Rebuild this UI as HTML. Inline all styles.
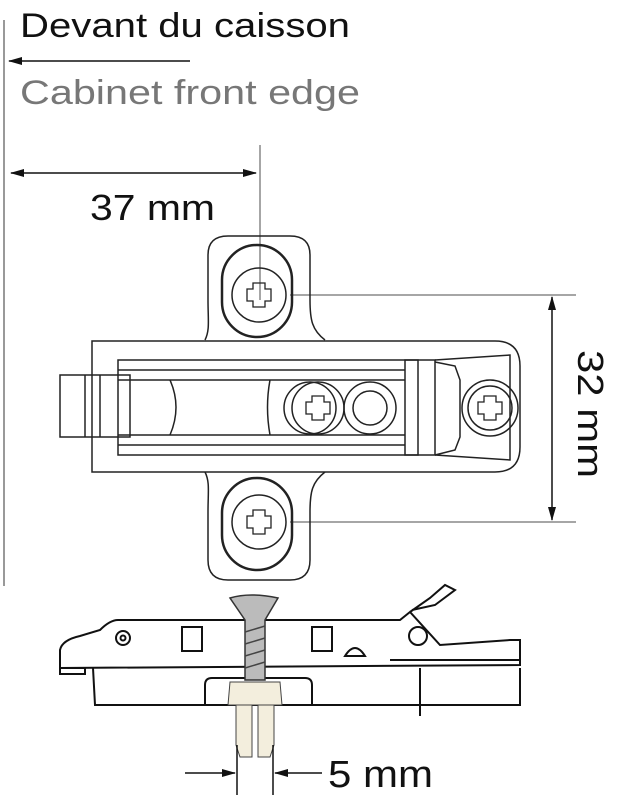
<!DOCTYPE html>
<html><head><meta charset="utf-8"><style>
html,body{margin:0;padding:0;background:#fff;}
svg{display:block;}
text{font-family:"Liberation Sans",sans-serif;}
</style></head><body>
<svg width="619" height="800" viewBox="0 0 619 800" xmlns="http://www.w3.org/2000/svg">
<defs>
<marker id="ah" markerWidth="14" markerHeight="8" refX="13" refY="4" orient="auto" markerUnits="userSpaceOnUse"><path d="M0,0 L14,4 L0,8 Z" fill="#111"/></marker>
</defs>
<!-- texts -->
<text x="20" y="37" font-size="34" fill="#111" textLength="330" lengthAdjust="spacingAndGlyphs">Devant du caisson</text>
<text x="20" y="104" font-size="34" fill="#777" textLength="340" lengthAdjust="spacingAndGlyphs">Cabinet front edge</text>
<line x1="190" y1="61" x2="9" y2="61" stroke="#111" stroke-width="1.5" marker-end="url(#ah)"/>
<line x1="4" y1="20" x2="4" y2="586" stroke="#999" stroke-width="2"/>
<!-- 37 mm -->
<line x1="130" y1="173" x2="11" y2="173" stroke="#111" stroke-width="1.5" marker-end="url(#ah)"/>
<line x1="130" y1="173" x2="256" y2="173" stroke="#111" stroke-width="1.5" marker-end="url(#ah)"/>
<text x="90" y="220" font-size="36" fill="#111" textLength="125" lengthAdjust="spacingAndGlyphs">37 mm</text>
<line x1="260" y1="145" x2="260" y2="300" stroke="#888" stroke-width="1.5"/>
<!-- 32 mm -->
<line x1="290" y1="295" x2="576" y2="295" stroke="#888" stroke-width="1.5"/>
<line x1="290" y1="522" x2="576" y2="522" stroke="#888" stroke-width="1.5"/>
<line x1="552" y1="408" x2="552" y2="297" stroke="#111" stroke-width="1.5" marker-end="url(#ah)"/>
<line x1="552" y1="408" x2="552" y2="520" stroke="#111" stroke-width="1.5" marker-end="url(#ah)"/>
<text transform="translate(578,350) rotate(90)" font-size="36" fill="#111" textLength="128" lengthAdjust="spacingAndGlyphs">32 mm</text>

<g fill="none" stroke="#222" stroke-width="1.5">
<!-- ears -->
<path d="M205,340 C210,330 208,320 208,300 L208,255 Q208,236 228,236 L290,236 Q310,236 310,255 L310,300 C310,320 312,330 325,340"/>
<path d="M205,472 C210,482 208,492 208,512 L208,560 Q208,580 228,580 L290,580 Q310,580 310,560 L310,512 C310,492 312,482 325,472"/>
<rect x="222" y="245" width="70" height="92" rx="35" stroke-width="2.5"/>
<rect x="222" y="478" width="70" height="92" rx="35" stroke-width="2.5"/>
<circle cx="259" cy="295" r="27"/>
<circle cx="259" cy="522" r="27"/>
<!-- main body -->
<path d="M92,341 L495,341 Q520,341 520,366 L520,447 Q520,472 495,472 L92,472 Z"/>
<rect x="60" y="375" width="70" height="62"/>
<line x1="85" y1="375" x2="85" y2="437"/><line x1="100" y1="375" x2="100" y2="437"/>
<rect x="118" y="360" width="300" height="95"/>
<line x1="118" y1="380" x2="405" y2="380"/><line x1="118" y1="435" x2="405" y2="435"/>
<line x1="118" y1="370" x2="405" y2="370"/><line x1="118" y1="445" x2="405" y2="445"/>
<path d="M170,380 Q182,407 170,435"/>
<path d="M270,380 Q265,407 270,435"/>
<circle cx="310" cy="408" r="26"/><circle cx="318" cy="408" r="26"/>
<circle cx="370" cy="408" r="26"/><circle cx="370" cy="408" r="17"/>
<rect x="405" y="360" width="30" height="95"/>
<path d="M435,362 L455,366 L460,380 L460,437 L455,450 L435,455"/>
<path d="M435,360 L510,355 L510,460 L435,455"/>
<circle cx="490" cy="408" r="28"/><circle cx="490" cy="408" r="22"/>
</g>
<!-- screw crosses -->
<g fill="none" stroke="#222" stroke-width="1.3">
<path d="M253,283 h12 v6 h6 v12 h-6 v6 h-12 v-6 h-6 v-12 h6 z"/>
<path d="M253,510 h12 v6 h6 v12 h-6 v6 h-12 v-6 h-6 v-12 h6 z"/>
<path d="M312,396 h12 v6 h6 v12 h-6 v6 h-12 v-6 h-6 v-12 h6 z"/>
<path d="M484,396 h12 v6 h6 v12 h-6 v6 h-12 v-6 h-6 v-12 h6 z"/>
</g>
<!-- side view -->
<g fill="none" stroke="#111" stroke-width="2">
<path d="M60,668 L60,650 Q62,640 80,636 L100,630 Q110,620 118,620 L400,620 L410,612 L440,645 L510,640 L520,640 L520,665 L60,668"/>
<rect x="60" y="668" width="25" height="6"/>
<path d="M93,668 L95,705 L520,705 L520,668"/>
<path d="M205,705 L205,685 Q205,678 212,678 L305,678 Q312,678 312,685 L312,705"/>
<path d="M410,612 L430,598 L445,585 L455,590 L435,605 L412,610"/>
<rect x="182" y="627" width="20" height="24"/><rect x="312" y="627" width="20" height="24"/>
<path d="M345,656 Q355,640 365,656 Z"/>
<circle cx="123" cy="638" r="7"/><circle cx="123" cy="638" r="2.5"/>
<circle cx="418" cy="636" r="9"/>
<line x1="420" y1="668" x2="420" y2="716"/>
<path d="M390,660 L520,660"/>
</g>
<!-- screw -->
<path d="M230,598 Q250,592 278,598 L265,620 L265,680 L245,680 L245,620 Z" fill="#bbb" stroke="#333" stroke-width="1.5"/>
<g stroke="#444" stroke-width="1.5"><line x1="245" y1="632" x2="265" y2="626"/><line x1="245" y1="644" x2="265" y2="638"/><line x1="245" y1="656" x2="265" y2="650"/><line x1="245" y1="668" x2="265" y2="662"/></g>
<!-- dowel -->
<path d="M230,682 L280,682 L282,705 L228,705 Z" fill="#f3eedd" stroke="#444" stroke-width="1"/>
<path d="M236,705 L252,705 L252,757 L240,757 L236,745 Z M258,705 L274,705 L274,745 L270,757 L258,757 Z" fill="#f3eedd" stroke="#444" stroke-width="1"/>
<!-- 5 mm -->
<line x1="237" y1="745" x2="237" y2="795" stroke="#111" stroke-width="1.5"/>
<line x1="273" y1="745" x2="273" y2="795" stroke="#111" stroke-width="1.5"/>
<line x1="185" y1="773" x2="235" y2="773" stroke="#111" stroke-width="1.5" marker-end="url(#ah)"/>
<line x1="322" y1="773" x2="275" y2="773" stroke="#111" stroke-width="1.5" marker-end="url(#ah)"/>
<text x="328" y="787" font-size="38" fill="#111" textLength="105" lengthAdjust="spacingAndGlyphs">5 mm</text>
</svg>
</body></html>
